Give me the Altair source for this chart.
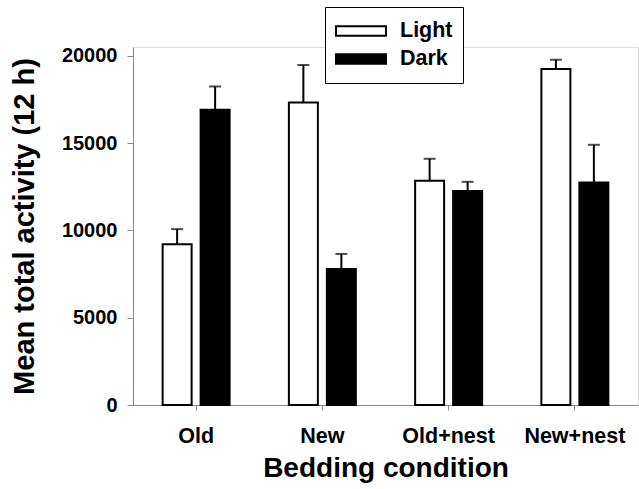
import altair as alt
import pandas as pd

# Mean total activity over 12 h by bedding condition, light vs dark phase (mean + SEM)
conditions = ["Old", "New", "Old+nest", "New+nest"]
phases = ["Light", "Dark"]
light_mean = [9210, 17320, 12840, 19240]
light_sem = [860, 2150, 1260, 530]
dark_mean = [16900, 7790, 12250, 12740]
dark_sem = [1340, 860, 530, 2160]
y_ticks = [0, 5000, 10000, 15000, 20000]

rows = []
for i, c in enumerate(conditions):
    rows.append({"condition": c, "phase": "Light", "mean": light_mean[i], "sem": light_sem[i]})
    rows.append({"condition": c, "phase": "Dark", "mean": dark_mean[i], "sem": dark_sem[i]})
df = pd.DataFrame(rows)
df["upper"] = df["mean"] + df["sem"]

FONT = "Liberation Sans"

x_axis = alt.Axis(
    title="Bedding condition",
    labelAngle=0,
    labelAlign="center",
    labelBaseline="top",
    labelFontSize=21.5,
    labelFontWeight="bold",
    titleFontSize=28,
    titleFontWeight="bold",
    tickSize=5,
    labelPadding=15,
    titlePadding=8,
)
x_enc = alt.X(
    "condition:N",
    sort=conditions,
    scale=alt.Scale(paddingInner=0, paddingOuter=0),
    axis=x_axis,
)
xoff = alt.XOffset(
    "phase:N",
    sort=phases,
    scale=alt.Scale(paddingInner=0.237, paddingOuter=0.78),
)
y_scale = alt.Scale(domain=[0, 20500], nice=False)
y_axis = alt.Axis(
    title="Mean total activity (12 h)",
    values=y_ticks,
    format="d",
    labelFontSize=20,
    labelFontWeight="bold",
    titleFontSize=29,
    titleFontWeight="bold",
    tickSize=6,
    labelPadding=10,
    titlePadding=22,
    grid=False,
)

base = alt.Chart(df)

bars = base.mark_bar(stroke="black", strokeWidth=2).encode(
    x=x_enc,
    xOffset=xoff,
    y=alt.Y("mean:Q", scale=y_scale, axis=y_axis),
    fill=alt.Fill(
        "phase:N",
        sort=phases,
        scale=alt.Scale(domain=phases, range=["white", "black"]),
        legend=alt.Legend(
            title=None,
            orient="none",
            legendX=192,
            legendY=-40,
            symbolType="M-1,-0.19H1V0.19H-1Z",
            symbolSize=2500,
            symbolStrokeColor="black",
            symbolStrokeWidth=2,
            clipHeight=28,
            rowPadding=-1,
            padding=10,
            labelOffset=13,
            labelFontSize=21.5,
            labelFontWeight="bold",
            labelFont=FONT,
            labelColor="black",
            strokeColor="black",
            fillColor="white",
            labelLimit=200,
        ),
    ),
)

err = base.mark_rule(color="black", strokeWidth=2).encode(
    x=x_enc,
    xOffset=xoff,
    y=alt.Y("mean:Q", scale=y_scale, axis=y_axis),
    y2="upper:Q",
)

caps = base.mark_tick(color="black", size=12, thickness=2, orient="horizontal").encode(
    x=x_enc,
    xOffset=xoff,
    y=alt.Y("upper:Q", scale=y_scale, axis=y_axis),
)

chart = (
    alt.layer(bars, err, caps)
    .properties(
        width=505,
        height=358,
        autosize=alt.AutoSizeParams(type="none"),
        padding={"left": 133, "top": 47, "right": 1, "bottom": 84},
    )
    .configure_view(stroke="black", strokeWidth=2)
    .configure_axis(
        domainColor="black",
        domainWidth=2,
        tickColor="black",
        tickWidth=2,
        labelColor="black",
        titleColor="black",
        labelFont=FONT,
        titleFont=FONT,
    )
    .configure(font=FONT, background="white")
)

chart.save("out.html", embed_options={"renderer": "svg", "actions": False})
